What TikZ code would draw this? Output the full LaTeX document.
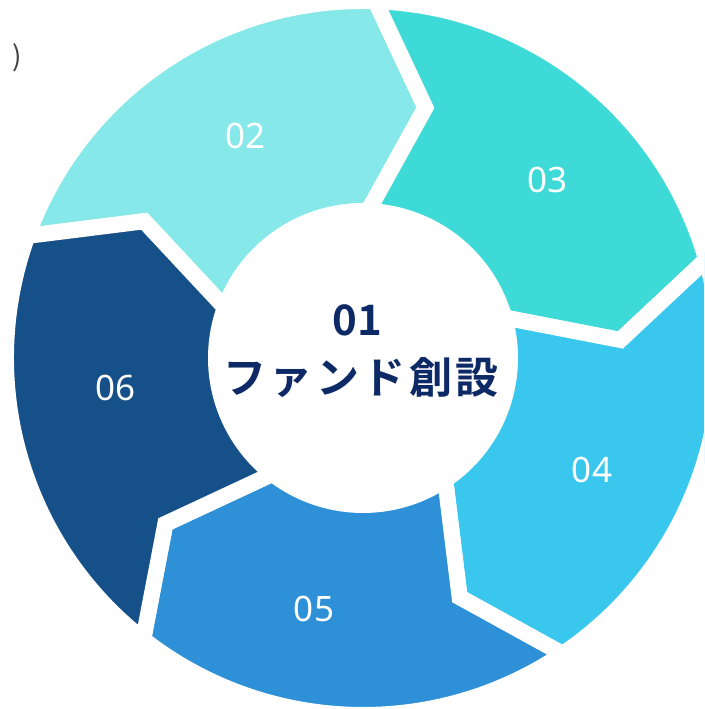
\documentclass[tikz,border=0pt]{standalone}
\usepackage{fontspec}
\newfontfamily\jp{Noto Sans CJK JP}
\newfontfamily\jpb{Noto Sans CJK JP Bold}
\newfontfamily\numf{Noto Sans}
\definecolor{c02}{HTML}{86E8E8}
\definecolor{c03}{HTML}{3EDAD8}
\definecolor{c04}{HTML}{39C7EE}
\definecolor{c05}{HTML}{2E90D6}
\definecolor{c06}{HTML}{165089}
\definecolor{navy}{HTML}{0E2A66}
\begin{document}
\begin{tikzpicture}[x=1pt,y=1pt,
  seg/.style={fill=#1, draw=white, line width=16pt, line join=miter},
  num/.style={text=white, font=\numf\fontsize{35}{35}\selectfont, inner sep=0pt},
  title/.style={text=navy, inner sep=0pt}]
\useasboundingbox (0,0) rectangle (704,709);
\clip (0,0) rectangle (704,709);
\fill[white] (0,0) rectangle (704,709);
\begin{scope}[shift={(363,351)}]
\foreach \a/\col in {160/c02, 88/c03, 16/c04, -56/c05, -128/c06} {
  \pgfmathsetmacro\b{\a-72}
  \pgfmathsetmacro\ah{\a-12}
  \pgfmathsetmacro\bh{\b-12}
  \path[seg=\col] (\a:147) -- (\ah:258) -- (\a:357)
     arc[start angle=\a, end angle=\b, radius=357pt]
     -- (\bh:258) -- (\b:147)
     arc[start angle=\b, end angle=\a, radius=147pt] -- cycle;
}
\end{scope}
\node[num] (n02) at (245.5,573.5) {02};
\node[num] (n03) at (547.5,529) {03};
\node[num] (n04) at (592,239) {04};
\node[num] (n05) at (314,100) {05};
\node[num] (n06) at (115.6,321) {06};
\node[title, font=\jpb\fontsize{42}{42}\selectfont] (n01) at (357.5,388.5) {01};
\node[title, font=\jpb\fontsize{43}{43}\selectfont\addfontfeature{LetterSpace=8}] (lbl) at (361,331) {ファンド創設};
\node[text=black!75, font=\jp\fontsize{28}{28}\selectfont, inner sep=0pt] (paren) at (17.5,651) {)};
\end{tikzpicture}
\end{document}
